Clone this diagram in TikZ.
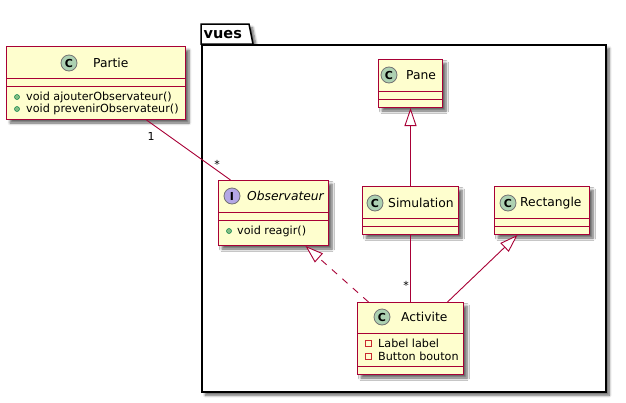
\documentclass[tikz,border=0pt]{standalone}
\usepackage{fontspec}
\setmainfont{DejaVu Sans}
\usetikzlibrary{arrows.meta,calc,shadows.blur}
\definecolor{umlred}{HTML}{A80036}
\definecolor{umlfill}{HTML}{FEFECE}
\definecolor{circc}{HTML}{ADD1B2}
\definecolor{circi}{HTML}{B4A7E5}
\definecolor{pubfill}{HTML}{84BE84}
\definecolor{pubdraw}{HTML}{038048}
\definecolor{privdraw}{HTML}{C82930}
\tikzset{
  shad/.style={blur shadow={shadow xshift=3.5pt, shadow yshift=-3.5pt, shadow blur steps=6, shadow opacity=60, shadow blur radius=2.5pt}},
  cls/.style={draw=umlred, fill=umlfill, line width=1pt, rectangle, inner sep=0pt, anchor=north west, shad},
  divider/.style={draw=umlred, line width=1pt},
  circC/.style={circle, draw=black!55, fill=circc, line width=0.8pt, minimum size=16pt, inner sep=0pt, font=\bfseries\fontsize{11}{11}\selectfont},
  circI/.style={circle, draw=black!55, fill=circi, line width=0.8pt, minimum size=16pt, inner sep=0pt, font=\bfseries\fontsize{11}{11}\selectfont},
  cname/.style={anchor=west, inner sep=0pt, font=\fontsize{12.3}{14}\selectfont},
  member/.style={anchor=west, inner sep=0pt, font=\fontsize{11.2}{13}\selectfont},
  pub/.style={circle, fill=pubfill, draw=pubdraw, line width=0.5pt, minimum size=5pt, inner sep=0pt},
  priv/.style={rectangle, draw=privdraw, line width=0.7pt, minimum size=6pt, inner sep=0pt},
  edge/.style={draw=umlred, line width=0.9pt},
  inherit/.style={edge, -{Triangle[open, length=18pt, width=12pt, fill=white]}},
  mult/.style={inner sep=0pt, font=\fontsize{11}{12}\selectfont},
  pkg/.style={draw=black, fill=white, line width=1.5pt, shad},
}
\begin{document}
\begin{tikzpicture}[x=1pt,y=-1pt]
\useasboundingbox (0,0) rectangle (626,402);
% package
\path[pkg] (201,44) -- (201,24) -- (249,24) -- (253,44) -- cycle;
\node[pkg, rectangle, inner sep=0pt, anchor=north west, minimum width=404pt, minimum height=347pt] (vues) at (201,44) {};
\node[anchor=west, inner sep=0pt, font=\bfseries\fontsize{14.5}{16}\selectfont] (vuesN) at (203.5,35) {vues};

% Partie
\node[cls, minimum width=179pt, minimum height=73pt] (partie) at (6,46) {};
\draw[divider] ($(partie.north west)+(0,32)$) -- ($(partie.north east)+(0,32)$);
\draw[divider] ($(partie.north west)+(0,40)$) -- ($(partie.north east)+(0,40)$);
\node[circC] (partieC) at (69,63) {C};
\node[cname] (partieN) at (93,63) {Partie};
\node[pub] (partieB1) at (17,97) {};
\node[member] (partieM1) at (26,97) {void ajouterObservateur()};
\node[pub] (partieB2) at (17,109) {};
\node[member] (partieM2) at (26,109) {void prevenirObservateur()};

% Pane
\node[cls, minimum width=64pt, minimum height=48pt] (pane) at (378,59) {};
\draw[divider] ($(pane.north west)+(0,32)$) -- ($(pane.north east)+(0,32)$);
\draw[divider] ($(pane.north west)+(0,40)$) -- ($(pane.north east)+(0,40)$);
\node[circC] (paneC) at (389,75) {C};
\node[cname] (paneN) at (406,75) {Pane};

% Simulation
\node[cls, minimum width=96pt, minimum height=48pt] (sim) at (362,186) {};
\draw[divider] ($(sim.north west)+(0,32)$) -- ($(sim.north east)+(0,32)$);
\draw[divider] ($(sim.north west)+(0,40)$) -- ($(sim.north east)+(0,40)$);
\node[circC] (simC) at (375,203) {C};
\node[cname] (simN) at (388,203) {Simulation};

% Rectangle
\node[cls, minimum width=95pt, minimum height=48pt] (rect) at (494,186) {};
\draw[divider] ($(rect.north west)+(0,32)$) -- ($(rect.north east)+(0,32)$);
\draw[divider] ($(rect.north west)+(0,40)$) -- ($(rect.north east)+(0,40)$);
\node[circC] (rectC) at (508,203) {C};
\node[cname] (rectN) at (520,203) {Rectangle};

% Observateur
\node[cls, minimum width=110pt, minimum height=65pt] (obs) at (218,180) {};
\draw[divider] ($(obs.north west)+(0,32)$) -- ($(obs.north east)+(0,32)$);
\draw[divider] ($(obs.north west)+(0,40)$) -- ($(obs.north east)+(0,40)$);
\node[circI] (obsI) at (232,196) {I};
\node[cname, font=\itshape\fontsize{12.3}{14}\selectfont] (obsN) at (247,196) {Observateur};
\node[pub] (obsB1) at (229,231) {};
\node[member] (obsM1) at (237,231) {void reagir()};

% Activite
\node[cls, minimum width=106pt, minimum height=72pt] (act) at (357,302) {};
\draw[divider] ($(act.north west)+(0,31)$) -- ($(act.north east)+(0,31)$);
\draw[divider] ($(act.north west)+(0,64)$) -- ($(act.north east)+(0,64)$);
\node[circC] (actC) at (382,317) {C};
\node[cname] (actN) at (401,317) {Activite};
\node[priv] (actS1) at (368,343) {};
\node[member] (actM1) at (378,343) {Label label};
\node[priv] (actS2) at (368,356) {};
\node[member] (actM2) at (378,356) {Button bouton};

% connectors
\draw[edge] ([xshift=50.5pt]partie.south) -- ([xshift=-43pt]obs.north);
\node[mult] (m1) at (151,136) {1};
\node[mult] (m2) at (217,164) {*};
\draw[inherit] (sim.north) -- (pane.south);
\draw[edge] (sim.south) -- (act.north);
\node[mult] (m3) at (406,285) {*};
\draw[inherit] ([xshift=37pt]act.north) -- ([xshift=-24.5pt]rect.south);
\draw[inherit, dash pattern=on 7pt off 7pt] ([xshift=-42pt]act.north) -- ([xshift=32pt]obs.south);
\end{tikzpicture}
\end{document}
